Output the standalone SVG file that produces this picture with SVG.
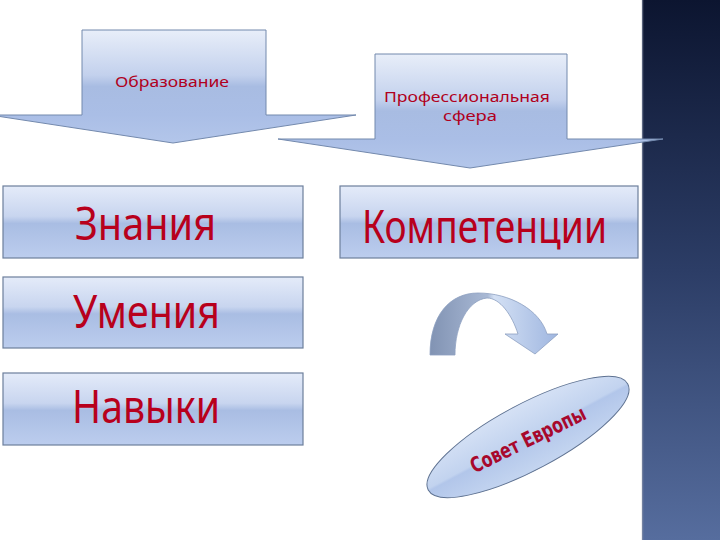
<svg xmlns="http://www.w3.org/2000/svg" width="720" height="540" viewBox="0 0 720 540">
  <defs>
    <linearGradient id="gArrow" x1="0" y1="0" x2="0" y2="1">
      <stop offset="0" stop-color="#e8eef9"/>
      <stop offset="0.4" stop-color="#c3d1ed"/>
      <stop offset="0.5" stop-color="#a8bce2"/>
      <stop offset="0.75" stop-color="#aabee6"/>
      <stop offset="1" stop-color="#b3c6ea"/>
    </linearGradient>
    <linearGradient id="gBox" x1="0" y1="0" x2="0" y2="1">
      <stop offset="0" stop-color="#e4ebf9"/>
      <stop offset="0.42" stop-color="#c8d5ef"/>
      <stop offset="0.52" stop-color="#a9bde3"/>
      <stop offset="1" stop-color="#bccdee"/>
    </linearGradient>
    <linearGradient id="gPanel" x1="0" y1="0" x2="0" y2="1">
      <stop offset="0" stop-color="#0c1530"/>
      <stop offset="0.5" stop-color="#2c3d66"/>
      <stop offset="1" stop-color="#566d9e"/>
    </linearGradient>
    <linearGradient id="gCurve" x1="0" y1="0" x2="1" y2="0">
      <stop offset="0" stop-color="#8193b3"/>
      <stop offset="0.45" stop-color="#a9b9d5"/>
      <stop offset="0.5" stop-color="#d3e0f4"/>
      <stop offset="1" stop-color="#9fb6e0"/>
    </linearGradient>
    <linearGradient id="gEll" x1="0" y1="0" x2="0" y2="1">
      <stop offset="0" stop-color="#d5e1f5"/>
      <stop offset="0.48" stop-color="#c2d3ef"/>
      <stop offset="0.52" stop-color="#b2c6ea"/>
      <stop offset="1" stop-color="#c4d5f0"/>
    </linearGradient>
    <style>
      .arrow { fill: url(#gArrow); stroke: #7389ad; stroke-width: 1; }
      .box { fill: url(#gBox); stroke: #6d7f9c; stroke-width: 1.2; }
      .big { font-family: "Noto Sans", "DejaVu Sans", sans-serif; font-size: 45px; fill: #b8001c; }
      .small { font-family: "Noto Sans", "DejaVu Sans", sans-serif; font-size: 15px; fill: #b00020; }
    </style>
  </defs>

  <rect x="0" y="0" width="720" height="540" fill="#ffffff"/>

  <g id="panel">
    <rect x="642" y="0" width="78" height="540" fill="url(#gPanel)"/>
    <line x1="642.5" y1="0" x2="642.5" y2="540" stroke="#8a93a8" stroke-width="1.5" opacity="0.6"/>
  </g>

  <g id="connectors">
    <g id="arrow-education">
      <polygon class="arrow" points="82,30 266,30 266,115 356,115 173,143 -10,115 82,115"/>
      <text class="small" x="172" y="87" text-anchor="middle" textLength="114" lengthAdjust="spacingAndGlyphs">Образование</text>
    </g>
    <g id="arrow-professional">
      <polygon class="arrow" points="375,54 567,54 567,139 663,139 470,168 278,139 375,139"/>
      <text class="small" x="467" y="102" text-anchor="middle" textLength="166" lengthAdjust="spacingAndGlyphs">Профессиональная</text>
      <text class="small" x="470" y="121" text-anchor="middle" textLength="54" lengthAdjust="spacingAndGlyphs">сфера</text>
    </g>
    <g id="curved-arrow">
      <path d="M430,355 C430,315 450,293 478,293 C510,293 540,310 547,334 L558,334 L535,354 L505,334 L518,334 C512,315 500,298 487,298 C468,300 455,325 455,355 Z" fill="url(#gCurve)" stroke="#8da0c0" stroke-width="0.8"/>
    </g>
  </g>

  <g id="node-znaniya">
    <rect class="box" x="3" y="186" width="300" height="72"/>
    <text class="big" x="75" y="240" textLength="141" lengthAdjust="spacingAndGlyphs">Знания</text>
  </g>
  <g id="node-kompetentsii">
    <rect class="box" x="340" y="186" width="298" height="72"/>
    <text class="big" x="362" y="243" textLength="245" lengthAdjust="spacingAndGlyphs">Компетенции</text>
  </g>
  <g id="node-umeniya">
    <rect class="box" x="3" y="277" width="300" height="71"/>
    <text class="big" x="73" y="328" textLength="147" lengthAdjust="spacingAndGlyphs">Умения</text>
  </g>
  <g id="node-navyki">
    <rect class="box" x="3" y="373" width="300" height="72"/>
    <text class="big" x="72" y="423" textLength="148" lengthAdjust="spacingAndGlyphs">Навыки</text>
  </g>

  <g id="node-sovet-evropy">
    <ellipse cx="528" cy="437" rx="113" ry="33" transform="rotate(-28 528 437)" fill="url(#gEll)" stroke="#5d7191" stroke-width="1"/>
    <text transform="translate(531,446) rotate(-26)" text-anchor="middle" font-family="'DejaVu Sans', sans-serif" font-size="21" font-weight="bold" fill="#a8082c" textLength="126" lengthAdjust="spacingAndGlyphs">Совет Европы</text>
  </g>
</svg>
